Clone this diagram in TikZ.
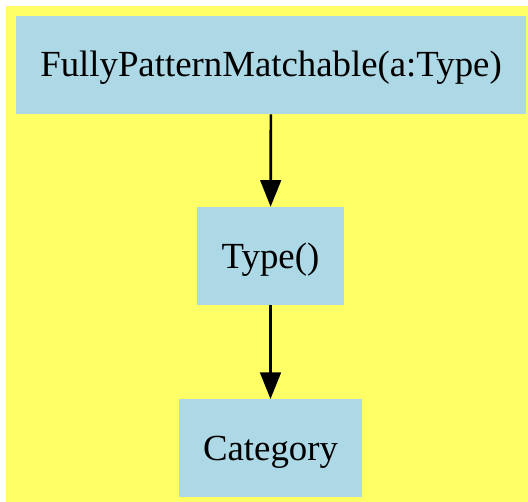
\documentclass[tikz,border=0pt]{standalone}
\usepackage{fontspec}
\setmainfont{Liberation Serif}
\usetikzlibrary{arrows.meta, positioning}

\definecolor{bgyellow}{HTML}{FFFF66}
\definecolor{boxblue}{HTML}{ADD8E6}

\tikzset{
    % --- Category box ---
    cat box/.style = {
        rectangle, fill=boxblue, draw=none,
        font=\fontsize{27.6}{32}\selectfont,
        text height=24pt, text depth=6pt,
        inner sep=0pt
    },
    % --- Dependency arrow ---
    dep arrow/.style = {
        -{Triangle[length=20pt, width=15.5pt]}, line width=2pt
    }
}

\begin{document}
\begin{tikzpicture}[x=0.75pt, y=-0.75pt]

% ---------------------------------------------------------
% Background
% ---------------------------------------------------------
\useasboundingbox (0,0) rectangle (528,502);
\fill[bgyellow] (6,6) rectangle (528,502);

% ---------------------------------------------------------
% Boxes
% ---------------------------------------------------------
\node[cat box, minimum width=382.5pt, minimum height=73.5pt] (FPM) at (271,65) {FullyPatternMatchable(a:Type)};
\node[cat box, minimum width=110.25pt, minimum height=73.5pt] (Type) at (270.5,256) {Type()};
\node[cat box, minimum width=137.25pt, minimum height=73pt] (Cat) at (270.5,448) {Category};

% ---------------------------------------------------------
% Arrows
% ---------------------------------------------------------
\draw[dep arrow] (FPM) -- (Type);
\draw[dep arrow] (Type) -- (Cat);

\end{tikzpicture}
\end{document}
